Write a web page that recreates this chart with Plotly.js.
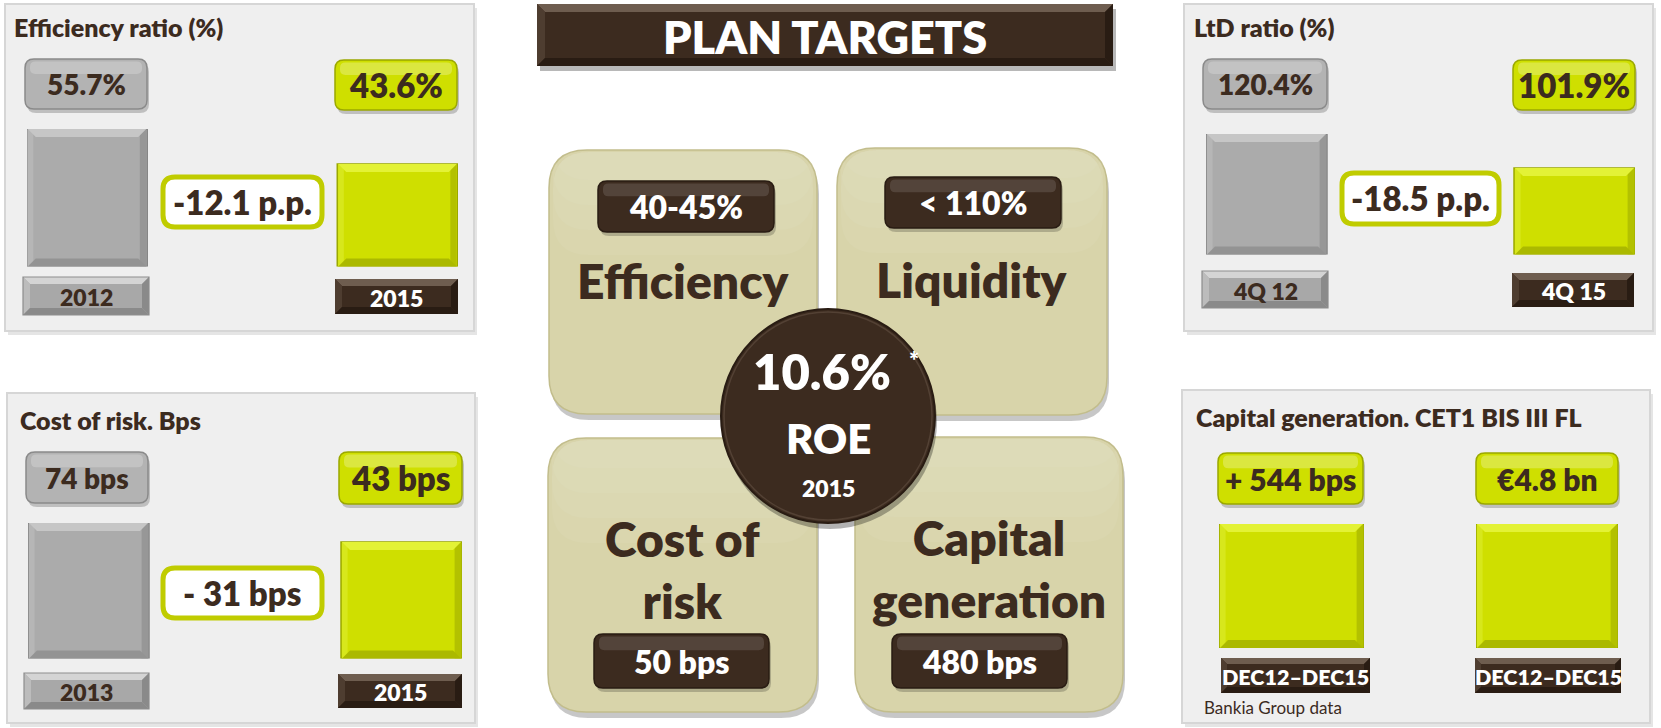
<!DOCTYPE html>
<html>
<head>
<meta charset="utf-8">
<script src="https://cdn.plot.ly/plotly-3.0.1.min.js"></script>
<style>html,body{margin:0;padding:0;background:#fff;}#chart{width:1661px;height:728px;}</style>
</head>
<body>
<div id="chart"></div>
<script>
// ---------------- DATA ----------------
const effCategories = ['2012', '2015'];
const effValues = [55.7, 43.6];
const effLabels = ['55.7%', '43.6%'];
const effDelta = '-12.1 p.p.';
const effTitle = 'Efficiency ratio (%)';

const corCategories = ['2013', '2015'];
const corValues = [74, 43];
const corLabels = ['74 bps', '43 bps'];
const corDelta = '- 31 bps';
const corTitle = 'Cost of risk. Bps';

const ltdCategories = ['4Q 12', '4Q 15'];
const ltdValues = [120.4, 101.9];
const ltdLabels = ['120.4%', '101.9%'];
const ltdDelta = '-18.5 p.p.';
const ltdTitle = 'LtD ratio (%)';

const capCategories = ['DEC12–DEC15', 'DEC12–DEC15'];
const capValues = [544, 4.8];
const capLabels = ['+ 544 bps', '€4.8 bn'];
const capTitle = 'Capital generation. CET1 BIS III FL';
const capNote = 'Bankia Group data';

const planTitle = 'PLAN TARGETS';
const targetNames = ['Efficiency', 'Liquidity', 'Cost of<br>risk', 'Capital<br>generation'];
const targetValues = ['40-45%', '< 110%', '50 bps', '480 bps'];
const roeValue = '10.6%';
const roeLabel = 'ROE';
const roeYear = '2015';

// ---------------- STYLE / GEOMETRY ----------------
const W = 1661, H = 728;
const X = x => x / W;
const Y = y => 1 - y / H;
const FONT = 'Lato, "Open Sans", sans-serif';
const WEIGHT = 800;
const BROWN = '#3c2b1f', BROWN_D = '#291c13', BROWN_L = '#6e5d4f';
const GRAY = '#ababab', GRAY_D = '#868686';
const GREEN = '#cfdf00', GREEN_D = '#9ba800';
const BEIGE = '#d8d4aa', BEIGE_D = '#c2bd8c';
const PANEL = '#efefef', PANEL_L = '#d6d6d6';
const DELTA_LINE = '#c0cc00';
const BEVEL_GRAY = {top: '#c6c6c6', left: '#b6b6b6', right: '#979797', bottom: '#939393'};
const BEVEL_GREEN = {top: '#e3f236', left: '#d7e71c', right: '#b3c100', bottom: '#abb900'};

const shapes = [];
const annotations = [];
const traces = [];

function rrPath(x0, y0, x1, y1, r) {
  const p = (x, y) => X(x) + ',' + Y(y);
  return 'M' + p(x0 + r, y0) + ' L' + p(x1 - r, y0) + ' Q' + p(x1, y0) + ' ' + p(x1, y0 + r) +
    ' L' + p(x1, y1 - r) + ' Q' + p(x1, y1) + ' ' + p(x1 - r, y1) +
    ' L' + p(x0 + r, y1) + ' Q' + p(x0, y1) + ' ' + p(x0, y1 - r) +
    ' L' + p(x0, y0 + r) + ' Q' + p(x0, y0) + ' ' + p(x0 + r, y0) + ' Z';
}
function polyPath(pts) {
  return 'M' + pts.map(q => X(q[0]) + ',' + Y(q[1])).join(' L') + ' Z';
}
function addRR(x0, y0, x1, y1, r, fill, line, lw, layer) {
  shapes.push({type: 'path', xref: 'paper', yref: 'paper', path: rrPath(x0, y0, x1, y1, r),
    fillcolor: fill, line: {color: line || 'rgba(0,0,0,0)', width: lw || 0}, layer: layer || 'above'});
}
function addPoly(pts, fill, layer) {
  shapes.push({type: 'path', xref: 'paper', yref: 'paper', path: polyPath(pts), fillcolor: fill,
    line: {width: 0, color: 'rgba(0,0,0,0)'}, layer: layer || 'above'});
}
function addRect(x0, y0, x1, y1, fill, line, lw, layer) {
  shapes.push({type: 'rect', xref: 'paper', yref: 'paper', x0: X(x0), x1: X(x1), y0: Y(y1), y1: Y(y0),
    fillcolor: fill || 'rgba(0,0,0,0)', line: {color: line || 'rgba(0,0,0,0)', width: lw || 0}, layer: layer || 'above'});
}
function bevelBox(x0, y0, x1, y1, b, fill, light, dark, side, layer) {
  addRect(x0, y0, x1, y1, fill, null, 0, layer);
  addPoly([[x0, y0], [x1, y0], [x1 - b, y0 + b], [x0 + b, y0 + b]], light, layer);
  addPoly([[x0, y0], [x0 + b, y0 + b], [x0 + b, y1 - b], [x0, y1]], side, layer);
  addPoly([[x1, y0], [x1, y1], [x1 - b, y1 - b], [x1 - b, y0 + b]], dark, layer);
  addPoly([[x0, y1], [x0 + b, y1 - b], [x1 - b, y1 - b], [x1, y1]], dark, layer);
}
function pill(x0, y0, x1, y1, r, fill, line, gloss) {
  addRR(x0 + 2, y0 + 4, x1 + 2, y1 + 4, r, 'rgba(0,0,0,0.20)', null, 0);
  addRR(x0, y0, x1, y1, r, fill, line, 1.5);
  addRR(x0 + 5, y0 + 2.5, x1 - 5, y0 + (y1 - y0) * 0.30, r * 0.6, gloss, null, 0);
}
function txt(text, x, y, size, color, extra) {
  const a = {text: text, x: X(x), y: Y(y), xref: 'paper', yref: 'paper', showarrow: false,
    xanchor: 'center', yanchor: 'middle',
    font: {family: FONT, size: size, color: color, weight: WEIGHT}};
  return Object.assign(a, extra || {});
}
// bevel bands on a bar: x in pixels around the category slot, y anchored to the bar's own values
function barBevel(xr, yr, idx, top, base, hw, b, col) {
  const noLine = {width: 0, color: 'rgba(0,0,0,0)'};
  const side = {type: 'path', xref: xr, yref: yr, xsizemode: 'pixel', xanchor: idx, line: noLine};
  shapes.push(Object.assign({}, side, {fillcolor: col.left,
    path: `M${-hw},${base} L${-hw + b * 0.7},${base} L${-hw + b * 0.7},${top} L${-hw},${top} Z`}));
  shapes.push(Object.assign({}, side, {fillcolor: col.right,
    path: `M${hw - b * 0.8},${base} L${hw},${base} L${hw},${top} L${hw - b * 0.8},${top} Z`}));
  const band = {type: 'path', xref: xr, yref: yr, xsizemode: 'pixel', ysizemode: 'pixel', xanchor: idx, line: noLine};
  shapes.push(Object.assign({}, band, {yanchor: top, fillcolor: col.top,
    path: `M${-hw},0 L${hw},0 L${hw - b},${-b} L${-hw + b},${-b} Z`}));
  shapes.push(Object.assign({}, band, {yanchor: base, fillcolor: col.bottom,
    path: `M${-hw},0 L${hw},0 L${hw - b},${b} L${-hw + b},${b} Z`}));
}

// ---------- side panels ----------
const panels = [
  {title: effTitle, cats: effCategories, vals: effValues, labels: effLabels, delta: effDelta,
   box: [5, 4, 474, 331], titleXY: [12, 27.5],
   pills: [[25, 59, 147, 109], [335, 60, 457, 110]],
   bars: {l0: 27, l1: 147, r0: 337, r1: 458, bottom: 266.5, top: 129, lo: 8.2},
   deltaBox: [163, 177, 322, 227],
   catBoxes: [[23, 277, 149, 315], [335, 279, 458, 314]]},
  {title: corTitle, cats: corCategories, vals: corValues, labels: corLabels, delta: corDelta,
   box: [7, 393, 475, 723], titleXY: [18, 420.5],
   pills: [[26, 452, 148, 503], [339, 452, 462, 504]],
   bars: {l0: 28, l1: 149, r0: 341, r1: 462, bottom: 658.5, top: 523, lo: -147},
   deltaBox: [163, 568, 322, 618],
   catBoxes: [[24, 673, 149, 709], [338, 674, 462, 708]]},
  {title: ltdTitle, cats: ltdCategories, vals: ltdValues, labels: ltdLabels, delta: ltdDelta,
   box: [1184, 4, 1653, 331], titleXY: [1192, 27.5],
   pills: [[1203, 59, 1327, 109], [1513, 60, 1635, 110]],
   bars: {l0: 1206, l1: 1327, r0: 1514, r1: 1635, bottom: 254.5, top: 134, lo: 54.8},
   deltaBox: [1342, 173, 1499, 224],
   catBoxes: [[1202, 271, 1328, 308], [1512, 273, 1634, 307]]}
];

const layout = {
  width: W, height: H, margin: {l: 0, r: 0, t: 0, b: 0},
  paper_bgcolor: '#ffffff', plot_bgcolor: 'rgba(0,0,0,0)',
  showlegend: false, bargap: 0, hovermode: false
};
const hidden = {visible: false, showgrid: false, zeroline: false, fixedrange: true};

panels.forEach((P, i) => {
  const b = P.box;
  addRect(b[0] + 3, b[1] + 4, b[2] + 3, b[3] + 4, 'rgba(0,0,0,0.10)', null, 0, 'below');
  addRect(b[0], b[1], b[2], b[3], PANEL, PANEL_L, 2, 'below');
  annotations.push(txt(P.title, P.titleXY[0], P.titleXY[1], 25, BROWN, {xanchor: 'left'}));

  // value pills
  pill(...P.pills[0], 9, '#b3b3b3', '#8a8a8a', 'rgba(255,255,255,0.22)');
  pill(...P.pills[1], 9, GREEN, GREEN_D, 'rgba(255,255,255,0.25)');
  annotations.push(txt(P.labels[0], (P.pills[0][0] + P.pills[0][2]) / 2, (P.pills[0][1] + P.pills[0][3]) / 2, 28, BROWN));
  annotations.push(txt(P.labels[1], (P.pills[1][0] + P.pills[1][2]) / 2, (P.pills[1][1] + P.pills[1][3]) / 2, 33, BROWN));

  // delta pill
  const d = P.deltaBox;
  addRR(d[0], d[1], d[2], d[3], 12, '#ffffff', DELTA_LINE, 5);
  annotations.push(txt(P.delta, (d[0] + d[2]) / 2, (d[1] + d[3]) / 2, 33, BROWN));

  // category boxes
  const c0 = P.catBoxes[0], c1 = P.catBoxes[1];
  bevelBox(c0[0], c0[1], c0[2], c0[3], 7, '#a8a8a8', '#d4d4d4', '#8a8a8a', '#bcbcbc');
  addRect(c0[0], c0[1], c0[2], c0[3], null, '#8d8d8d', 1.2);
  bevelBox(c1[0], c1[1], c1[2], c1[3], 7, BROWN, BROWN_L, BROWN_D, '#4e3d30');
  annotations.push(txt(P.cats[0], (c0[0] + c0[2]) / 2, (c0[1] + c0[3]) / 2 + 1, 23, BROWN));
  annotations.push(txt(P.cats[1], (c1[0] + c1[2]) / 2, (c1[1] + c1[3]) / 2 + 1, 23, '#ffffff'));

  // bars through axes
  const g = P.bars;
  const cL = (g.l0 + g.l1) / 2, cR = (g.r0 + g.r1) / 2, u = cR - cL;
  const bwPx = ((g.l1 - g.l0) + (g.r1 - g.r0)) / 2;
  const n = i + 1;
  const xs = n === 1 ? 'x' : 'x' + n, ys = n === 1 ? 'y' : 'y' + n;
  layout[n === 1 ? 'xaxis' : 'xaxis' + n] = Object.assign({}, hidden, {domain: [X(g.l0), X(g.r1)], type: 'category',
    range: [-(cL - g.l0) / u, 1 + (g.r1 - cR) / u], anchor: ys});
  layout[n === 1 ? 'yaxis' : 'yaxis' + n] = Object.assign({}, hidden, {domain: [Y(g.bottom), Y(g.top)],
    range: [g.lo, P.vals[0]], anchor: xs});
  traces.push({type: 'bar', x: P.cats, y: P.vals.map(v => v - g.lo), base: g.lo, width: bwPx / u,
    xaxis: xs, yaxis: ys,
    marker: {color: [GRAY, GREEN], line: {color: [GRAY_D, GREEN_D], width: 1.5}}, hoverinfo: 'skip'});
  barBevel(xs, ys, 0, P.vals[0], g.lo, bwPx / 2 - 1, 8, BEVEL_GRAY);
  barBevel(xs, ys, 1, P.vals[1], g.lo, bwPx / 2 - 1, 8, BEVEL_GREEN);
});

// ---------- capital generation panel ----------
(function () {
  const b = [1182, 390, 1650, 723];
  addRect(b[0] + 3, b[1] + 4, b[2] + 3, b[3] + 4, 'rgba(0,0,0,0.10)', null, 0, 'below');
  addRect(b[0], b[1], b[2], b[3], PANEL, PANEL_L, 2, 'below');
  annotations.push(txt(capTitle, 1194, 417, 25, BROWN, {xanchor: 'left'}));
  const pills = [[1218, 453, 1363, 504], [1476, 453, 1618, 504]];
  const bars = [[1219, 1364], [1476, 1618]];
  const cats = [[1221, 658, 1370, 693], [1475, 658, 1621, 693]];
  capValues.forEach((v, k) => {
    const p = pills[k];
    pill(p[0], p[1], p[2], p[3], 9, GREEN, GREEN_D, 'rgba(255,255,255,0.25)');
    annotations.push(txt(capLabels[k], (p[0] + p[2]) / 2, (p[1] + p[3]) / 2, 30, BROWN));
    const n = 4 + k;
    layout['xaxis' + n] = Object.assign({}, hidden, {domain: [X(bars[k][0]), X(bars[k][1])],
      type: 'category', range: [-0.5, 0.5], anchor: 'y' + n});
    layout['yaxis' + n] = Object.assign({}, hidden, {domain: [Y(648), Y(524)], range: [0, v], anchor: 'x' + n});
    traces.push({type: 'bar', x: [capCategories[k]], y: [v], width: 1, xaxis: 'x' + n, yaxis: 'y' + n,
      marker: {color: GREEN, line: {color: GREEN_D, width: 1.5}}, hoverinfo: 'skip'});
    barBevel('x' + n, 'y' + n, 0, v, 0, (bars[k][1] - bars[k][0]) / 2 - 1, 8, BEVEL_GREEN);
    const c = cats[k];
    bevelBox(c[0], c[1], c[2], c[3], 6, BROWN, BROWN_L, BROWN_D, '#4e3d30');
    annotations.push(txt(capCategories[k], (c[0] + c[2]) / 2, (c[1] + c[3]) / 2 + 1, 21.5, '#ffffff'));
  });
  annotations.push(txt(capNote, 1202, 707, 17, '#3c2b1f',
    {xanchor: 'left', font: {family: FONT, size: 17, color: '#3c2b1f', weight: 'normal'}}));
})();

// ---------- centre ----------
addRect(540, 9, 1116, 71, 'rgba(0,0,0,0.28)', null, 0);
bevelBox(537, 4, 1113, 66, 8, BROWN, BROWN_L, BROWN_D, '#4e3d30');
annotations.push(txt(planTitle, 825, 36.5, 45, '#ffffff'));

const tiles = [[549, 150, 817, 414], [837, 148, 1107, 415], [548, 438, 817, 712], [855, 437, 1123, 712]];
const tilePills = [[598, 181, 774, 232], [885, 177, 1061, 228], [594, 634, 769, 688], [892, 634, 1067, 688]];
const tileTextY = [280, 279.5, 569, 568];
tiles.forEach((t, k) => {
  addRR(t[0] + 2, t[1] + 6, t[2] + 2, t[3] + 6, 38, 'rgba(0,0,0,0.22)', null, 0);
  addRR(t[0], t[1], t[2], t[3], 38, BEIGE, BEIGE_D, 1.5);
  for (let j = 0; j < 4; j++) {
    addRR(t[0] + 4, t[1] + 2, t[2] - 4, t[1] + 30 + j * 25, 36, 'rgba(255,255,255,0.05)', null, 0);
  }
});
tiles.forEach((t, k) => {
  const p = tilePills[k];
  pill(p[0], p[1], p[2], p[3], 9, BROWN, BROWN_D, 'rgba(255,255,255,0.12)');
  annotations.push(txt(targetValues[k], (p[0] + p[2]) / 2, (p[1] + p[3]) / 2, 32, '#ffffff'));
  annotations.push(txt(targetNames[k], (t[0] + t[2]) / 2, tileTextY[k], 48, BROWN));
});

// ROE circle
const cx = 828, cy = 416, cr = 107;
shapes.push({type: 'circle', xref: 'paper', yref: 'paper', x0: X(cx - cr + 2), x1: X(cx + cr + 2),
  y0: Y(cy + cr + 6), y1: Y(cy - cr + 6), fillcolor: 'rgba(0,0,0,0.3)', line: {width: 0}});
shapes.push({type: 'circle', xref: 'paper', yref: 'paper', x0: X(cx - cr), x1: X(cx + cr),
  y0: Y(cy + cr), y1: Y(cy - cr), fillcolor: BROWN, line: {width: 2, color: BROWN_D}});
shapes.push({type: 'circle', xref: 'paper', yref: 'paper', x0: X(cx - cr + 3), x1: X(cx + cr - 3),
  y0: Y(cy + cr - 3), y1: Y(cy - cr + 3), fillcolor: 'rgba(0,0,0,0)', line: {width: 1.5, color: 'rgba(150,130,115,0.25)'}});
annotations.push(txt(roeValue, 822, 371, 49, '#ffffff'));
annotations.push(txt('*', 914, 359, 24, '#ffffff'));
annotations.push(txt(roeLabel, 828, 438, 42, '#ffffff'));
annotations.push(txt(roeYear, 828, 488.5, 23, '#ffffff'));

layout.shapes = shapes;
layout.annotations = annotations;

Plotly.newPlot('chart', traces, layout, {staticPlot: true, displayModeBar: false});
</script>
</body>
</html>
